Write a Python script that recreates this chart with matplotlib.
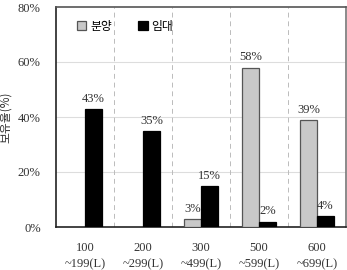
import matplotlib.pyplot as plt
import numpy as np

categories = ['100\n~199(L)', '200\n~299(L)', '300\n~499(L)', '500\n~599(L)', '600\n~699(L)']
sale = [0, 0, 3, 58, 39]
rent = [43, 35, 15, 2, 4]
sale_labels = [None, None, '3%', '58%', '39%']
rent_labels = ['43%', '35%', '15%', '2%', '4%']

plt.rcParams['font.family'] = ['Liberation Serif', 'Noto Sans CJK KR', 'DejaVu Sans']

fig = plt.figure(figsize=(3.47, 2.70), dpi=100)
ax = fig.add_axes([56 / 347, 43 / 270, 290 / 347, 220 / 270])

x = np.arange(len(categories))
w = 0.29
ax.bar(x - w / 2, sale, w, color='#c8c8c8', edgecolor='#555555', linewidth=0.9, label='분양', zorder=3)
ax.bar(x + w / 2, rent, w, color='black', edgecolor='black', linewidth=0.9, label='임대', zorder=3)

for i in range(len(categories)):
    if sale_labels[i]:
        ax.text(x[i] - w / 2, sale[i] + 1.5, sale_labels[i], ha='center', va='bottom', fontsize=9, color='#333333')
    ax.text(x[i] + w / 2, rent[i] + 1.5, rent_labels[i], ha='center', va='bottom', fontsize=9, color='#333333')

ax.set_xlim(-0.5, len(categories) - 0.5)
ax.set_ylim(0, 80)
ax.set_yticks([0, 20, 40, 60, 80])
ax.set_yticklabels(['0%', '20%', '40%', '60%', '80%'], fontsize=9, color='#333333')
ax.set_xticks(x)
ax.set_xticklabels(categories, fontsize=9, color='#333333', linespacing=1.5)
ax.tick_params(axis='y', length=0, pad=11)
ax.tick_params(axis='x', length=0, pad=11)

for yv in [20, 40, 60]:
    ax.axhline(yv, color='#dddddd', linewidth=0.8, zorder=1)
for xv in x[:-1] + 0.5:
    ax.axvline(xv, color='#bbbbbb', linewidth=0.7, linestyle=(0, (5, 4)), zorder=1)

ax.spines['left'].set_color('#222222')
ax.spines['bottom'].set_color('#222222')
ax.spines['top'].set_color('#555555')
ax.spines['right'].set_color('#777777')
for s in ax.spines.values():
    s.set_linewidth(1.2)

ax.set_ylabel('보유율(%)', fontsize=8.5, color='#333333', family=['Noto Sans CJK KR', 'DejaVu Sans'], labelpad=4)

ax.legend(loc='upper left', bbox_to_anchor=(0.035, 0.99), ncol=2, frameon=False,
          handlelength=0.8, handleheight=0.8, handletextpad=0.35, columnspacing=2.2,
          prop={'family': ['Noto Sans CJK KR', 'DejaVu Sans'], 'size': 8.5})

fig.savefig('out.png', dpi=100)
